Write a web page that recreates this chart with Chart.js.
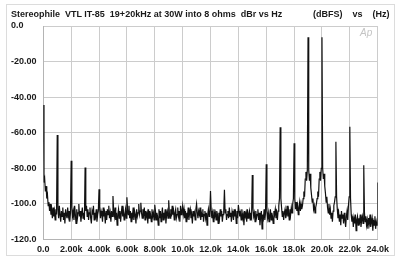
<!DOCTYPE html>
<html>
<head>
<meta charset="utf-8">
<script src="https://cdn.jsdelivr.net/npm/chart.js@4.4.1/dist/chart.umd.min.js"></script>
<style>
  html, body {
    margin: 0;
    padding: 0;
    background: #ffffff;
  }
  .quadro {
    position: relative;
    width: 400px;
    height: 260px;
    font-family: "Liberation Sans", Arial, sans-serif;
  }
  .moldura {
    position: absolute;
    left: 6px;
    top: 4px;
    width: 387px;
    height: 250px;
    border: 1px solid #dcdcdc;
    pointer-events: none;
  }
  .titulo {
    position: absolute;
    top: 9px;
    font-size: 9px;
    font-weight: bold;
    color: #1a1a1a;
    white-space: pre;
  }
  .logo {
    position: absolute;
    left: 360px;
    top: 27px;
    font-size: 10px;
    font-style: italic;
    color: #c4c4c4;
  }
  canvas {
    position: absolute;
    left: 0;
    top: 0;
  }
</style>
</head>
<body>
<div class="quadro">
  <canvas id="grafico" width="400" height="260"></canvas>
  <div class="moldura"></div>
  <span class="titulo" style="left:11px">Stereophile  VTL IT-85  19+20kHz at 30W into 8 ohms  dBr vs Hz</span>
  <span class="titulo" style="left:313px">(dBFS)    vs    (Hz)</span>
  <span class="logo">Ap</span>
</div>
<script>
// passo de 50 Hz, de 0 a 24 kHz (uma linha = 1 kHz)
const PASSO_HZ = 50;

const niveisDb = [
  -44.4, -88, -86, -93, -90, -97, -95, -101, -99, -104, -100, -106, -103, -108, -102, -107, -104, -109, -103, -106,
  -61.2, -103, -108, -101, -106, -110, -104, -107, -102, -109, -105, -111, -103, -106, -108, -102, -107, -104, -110, -105,
  -75.8, -102, -107, -104, -109, -101, -106, -111, -103, -108, -105, -100, -107, -104, -110, -106, -102, -108, -105, -109,
  -79.6, -104, -101, -107, -103, -109, -105, -102, -108, -111, -104, -106, -101, -109, -105, -107, -103, -110, -106, -104,
  -91.7, -103, -108, -104, -106, -110, -102, -107, -105, -111, -104, -109, -103, -106, -101, -108, -105, -110, -104, -107,
  -95.5, -104, -107, -102, -109, -105, -112, -106, -103, -108, -104, -110, -105, -101, -107, -104, -109, -106, -103, -108,
  -96.3, -103, -106, -101, -108, -104, -110, -105, -107, -102, -109, -104, -106, -111, -103, -107, -105, -100, -106, -104,
  -99.3, -105, -108, -103, -106, -102, -109, -104, -107, -105, -111, -103, -108, -104, -106, -110, -103, -107, -105, -109,
  -100.5, -104, -109, -105, -107, -112, -103, -108, -104, -110, -106, -102, -109, -105, -107, -103, -111, -106, -104, -108,
  -98, -105, -108, -103, -107, -101, -106, -104, -109, -105, -103, -108, -106, -102, -107, -104, -110, -101, -106, -104,
  -101, -106, -103, -108, -104, -110, -105, -107, -102, -109, -105, -103, -108, -106, -111, -104, -107, -105, -109, -103,
  -100, -105, -108, -104, -106, -102, -109, -105, -107, -103, -110, -106, -104, -108, -105, -112, -106, -103, -107, -105,
  -92.7, -104, -108, -105, -110, -103, -107, -105, -109, -104, -106, -111, -105, -108, -103, -107, -104, -110, -106, -104,
  -92.1, -105, -103, -109, -106, -104, -108, -102, -107, -105, -110, -104, -106, -109, -103, -107, -105, -111, -104, -108,
  -100.6, -104, -107, -105, -109, -103, -108, -106, -112, -104, -107, -105, -110, -103, -108, -106, -104, -109, -105, -107,
  -83.7, -103, -107, -105, -110, -104, -108, -106, -103, -109, -105, -112, -107, -104, -114, -106, -108, -103, -109, -105,
  -77.7, -104, -108, -105, -110, -106, -103, -109, -105, -107, -111, -104, -106, -103, -108, -105, -109, -104, -101, -97,
  -56.9, -97, -102, -107, -104, -109, -105, -103, -108, -106, -101, -107, -104, -109, -103, -106, -102, -105, -100, -97,
  -65.9, -97, -103, -99, -104, -101, -106, -102, -99, -104, -100, -103, -101, -97, -93, -96, -86, -82, -87, -81,
  -6.3, -81, -87, -83, -91, -95, -99, -97, -103, -101, -105, -102, -100, -97, -93, -96, -86, -82, -87, -80,
  -6.3, -80, -86, -83, -90, -94, -99, -96, -102, -105, -100, -106, -103, -108, -105, -110, -104, -101, -99, -96,
  -65, -96, -103, -108, -105, -110, -106, -112, -104, -108, -106, -111, -105, -109, -113, -107, -104, -109, -101, -96,
  -56.6, -97, -106, -110, -107, -113, -108, -111, -106, -115, -109, -107, -112, -108, -110, -106, -113, -109, -107, -111,
  -78.3, -105, -110, -107, -112, -109, -114, -108, -111, -106, -113, -110, -108, -115, -109, -112, -107, -114, -110, -112,
  -88
];

const ticksX = ["0.0", "2.00k", "4.00k", "6.00k", "8.00k", "10.0k", "12.0k",
  "14.0k", "16.0k", "18.0k", "20.0k", "22.0k", "24.0k"];

const ticksY = ["0.0", "-20.00", "-40.00", "-60.00", "-80.00", "-100.0", "-120.0"];

const fonteTicks = {
  family: "'Liberation Sans', Arial, sans-serif",
  size: 9,
  weight: "bold"
};

function montarPontos() {
  return niveisDb.map((db, i) => ({ x: i * PASSO_HZ, y: db }));
}

function montarGrafico() {
  const canvas = document.getElementById("grafico");

  new Chart(canvas, {
    type: "line",
    data: {
      datasets: [
        {
          data: montarPontos(),
          borderColor: "#111111",
          borderWidth: 1.2,
          pointRadius: 0,
          tension: 0
        }
      ]
    },
    options: {
      responsive: false,
      animation: false,
      layout: {
        padding: { left: 11, right: 22.3, top: 26, bottom: 4.5 }
      },
      plugins: {
        legend: { display: false },
        tooltip: { enabled: false }
      },
      scales: {
        x: {
          type: "linear",
          min: 0,
          max: 24000,
          afterFit: (scale) => { scale.height = 16; },
          ticks: {
            stepSize: 2000,
            autoSkip: false,
            maxRotation: 0,
            padding: 5,
            color: "#1a1a1a",
            font: fonteTicks,
            callback: function(valor) {
              return ticksX[Math.round(valor / 2000)];
            }
          },
          grid: {
            color: "#cccccc",
            drawTicks: false
          },
          border: { color: "#b4b4b4" }
        },
        y: {
          min: -120,
          max: 0,
          afterFit: (scale) => { scale.width = 32.3; },
          ticks: {
            stepSize: 20,
            crossAlign: "far",
            color: "#1a1a1a",
            font: fonteTicks,
            callback: function(valor) {
              return ticksY[Math.round(-valor / 20)];
            }
          },
          grid: {
            color: "#cccccc",
            drawTicks: false
          },
          border: { color: "#b4b4b4" }
        }
      }
    }
  });
}

montarGrafico();
</script>
</body>
</html>
